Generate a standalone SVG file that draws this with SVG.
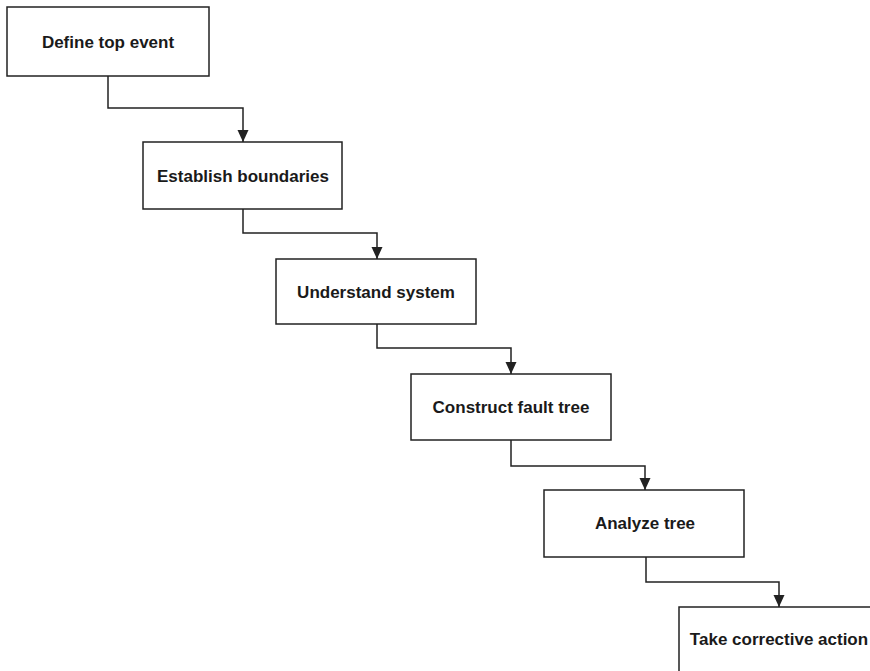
<svg xmlns="http://www.w3.org/2000/svg" width="870" height="671" viewBox="0 0 870 671">
<style>
.box{fill:#fff;stroke:#222;stroke-width:1.5}
.lbl{font-family:"Liberation Sans",Arial,sans-serif;font-weight:bold;font-size:17px;fill:#1a1a1a;text-anchor:middle}
.conn{fill:none;stroke:#222;stroke-width:1.5}
</style>
<defs>
<marker id="arr" markerUnits="userSpaceOnUse" markerWidth="12" markerHeight="12" refX="12" refY="5.5" orient="auto">
<path d="M0,0 L12,5.5 L0,11 z" fill="#222"/>
</marker>
</defs>
<rect width="870" height="671" fill="#fff"/>
<g id="connectors">
<path class="conn" d="M108,76 V108 H243 V142" marker-end="url(#arr)"/>
<path class="conn" d="M243,209 V233 H377 V259" marker-end="url(#arr)"/>
<path class="conn" d="M377,324 V348 H511 V374" marker-end="url(#arr)"/>
<path class="conn" d="M511,440 V466 H645 V490" marker-end="url(#arr)"/>
<path class="conn" d="M646,557 V582 H779 V607" marker-end="url(#arr)"/>
</g>
<g id="n1"><rect class="box" x="7" y="7" width="202" height="69"/><text class="lbl" x="108" y="48">Define top event</text></g>
<g id="n2"><rect class="box" x="143" y="142" width="199" height="67"/><text class="lbl" x="243" y="182">Establish boundaries</text></g>
<g id="n3"><rect class="box" x="276" y="259" width="200" height="65"/><text class="lbl" x="376" y="298">Understand system</text></g>
<g id="n4"><rect class="box" x="411" y="374" width="200" height="66"/><text class="lbl" x="511" y="413">Construct fault tree</text></g>
<g id="n5"><rect class="box" x="544" y="490" width="200" height="67"/><text class="lbl" x="645" y="529">Analyze tree</text></g>
<g id="n6"><rect class="box" x="679" y="607" width="210" height="80"/><text class="lbl" x="779" y="645">Take corrective action</text></g>
</svg>
